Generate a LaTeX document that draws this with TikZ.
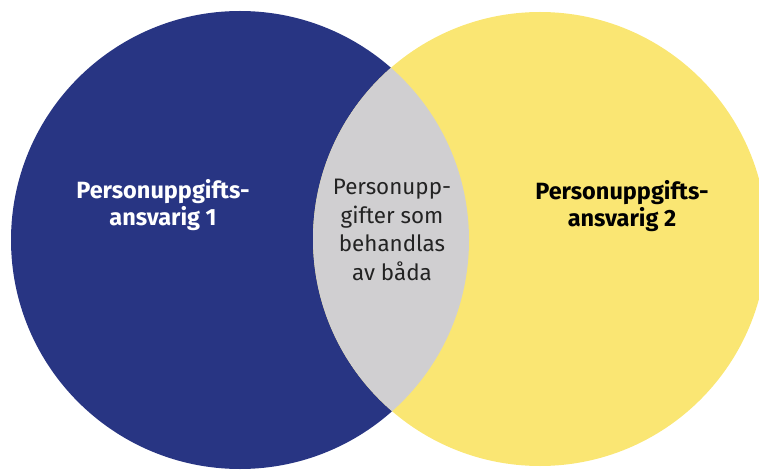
\documentclass[tikz,border=0pt]{standalone}
\usepackage{fontspec}
\setmainfont{Fira Sans}
\definecolor{navy}{RGB}{40,53,131}
\definecolor{sun}{RGB}{250,230,115}
\definecolor{lensgray}{RGB}{208,207,209}
\definecolor{txtgray}{RGB}{35,35,35}
\begin{document}
\begin{tikzpicture}[x=1pt,y=-1pt,
  sidelabel/.style={font=\bfseries\fontsize{23.5}{27.5}\selectfont, align=center, inner sep=0pt},
  midlabel/.style={font=\fontsize{22.4}{28.7}\selectfont, align=center, inner sep=0pt, text=txtgray}]
\useasboundingbox (0,0) rectangle (759,470);
\clip (0,0) rectangle (759,470);
\coordinate (c1) at (240,240);
\coordinate (c2) at (540,239);
\fill[navy] (c1) circle[radius=229];
\fill[sun] (c2) circle[radius=227];
\begin{scope}
  \clip (c1) circle[radius=229];
  \fill[lensgray] (c2) circle[radius=227];
\end{scope}
\node[sidelabel, text=white] (l1) at (163,205) {Personuppgifts-\\ansvarig 1};
\node[sidelabel, text=black] (l2) at (622,206) {Personuppgifts-\\ansvarig 2};
\node[midlabel] (lm) at (392,230) {Personupp-\\gifter som\\behandlas\\av båda};
\end{tikzpicture}
\end{document}
